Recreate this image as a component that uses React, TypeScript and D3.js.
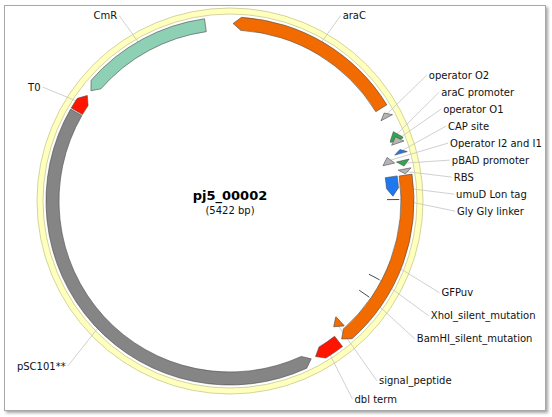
import { useEffect, useRef } from "react";
import * as d3 from "d3";

// plasmid + feature annotations (bp positions)
const plasmidName = "pj5_00002";
const plasmidLength = 5422;

const featureNames = [
  "araC", "operator O2", "araC promoter", "operator O1", "CAP site",
  "Operator I2 and I1", "pBAD promoter", "RBS", "GFPuv", "umuD Lon tag",
  "Gly Gly linker", "XhoI_silent_mutation", "BamHI_silent_mutation",
  "signal_peptide", "dbl term", "pSC101**", "T0", "CmR",
];
const featureStarts = [15, 908, 1009, 1036, 1102, 1122, 1157, 1199, 1229, 1227, 1347, 1773, 1876, 2071, 2143, 2301, 4524, 4645];
const featureEnds = [881, 934, 1054, 1069, 1121, 1160, 1184, 1223, 2124, 1330, 1349, 1775, 1878, 2116, 2277, 4518, 4616, 5302];
// 1 = forward, -1 = reverse, 0 = site (drawn as a tick)
const featureStrands = [-1, -1, -1, -1, -1, -1, 1, 1, 1, 1, 0, 0, 0, 1, 1, -1, 1, -1];

const featureColors: Record<string, string> = {
  "araC": "#f26b00",
  "operator O2": "#b5b5b5",
  "araC promoter": "#2ea84a",
  "operator O1": "#b5b5b5",
  "CAP site": "#1f78f0",
  "Operator I2 and I1": "#b5b5b5",
  "pBAD promoter": "#2ea84a",
  "RBS": "#b5b5b5",
  "GFPuv": "#f26b00",
  "umuD Lon tag": "#1f78f0",
  "signal_peptide": "#f26b00",
  "dbl term": "#ff1400",
  "pSC101**": "#858585",
  "T0": "#ff1400",
  "CmR": "#8dd0b3",
};
const innerTrack = new Set(["Operator I2 and I1", "umuD Lon tag", "Gly Gly linker", "XhoI_silent_mutation", "BamHI_silent_mutation", "signal_peptide"]);

const W = 552, H = 417;
const FONT = "'DejaVu Sans', Verdana, sans-serif";

export default function App() {
  const svgRef = useRef<SVGSVGElement | null>(null);

  useEffect(() => {
    if (!svgRef.current) return;
    const svg = d3.select(svgRef.current);
    svg.selectAll("*").remove();

    const cx = 230, cy = 201;
    const main = { r0: 171, r1: 184 };
    const inner = { r0: 157, r1: 169 };
    const headPx = 8;
    const HALF = Math.PI / 2;

    const angle = d3.scaleLinear().domain([0, plasmidLength]).range([0, 2 * Math.PI]);
    const pt = (a: number, r: number): [number, number] => [cx + r * Math.sin(a), cy - r * Math.cos(a)];

    const features = featureNames.map((name, i) => ({
      name,
      a0: angle(featureStarts[i]),
      a1: angle(featureEnds[i]),
      strand: featureStrands[i],
      track: innerTrack.has(name) ? inner : main,
      color: featureColors[name] || "#999",
    }));

    const arrowPath = (a0: number, a1: number, r0: number, r1: number, strand: number) => {
      const rm = (r0 + r1) / 2;
      const head = Math.min(headPx / rm, a1 - a0);
      const p = d3.path();
      if (strand >= 0) {
        const b = a1 - head;
        p.moveTo(...pt(a0, r1));
        p.arc(cx, cy, r1, a0 - HALF, b - HALF, false);
        p.lineTo(...pt(a1, rm));
        p.lineTo(...pt(b, r0));
        p.arc(cx, cy, r0, b - HALF, a0 - HALF, true);
      } else {
        const b = a0 + head;
        p.moveTo(...pt(a0, rm));
        p.lineTo(...pt(b, r1));
        p.arc(cx, cy, r1, b - HALF, a1 - HALF, false);
        p.lineTo(...pt(a1, r0));
        p.arc(cx, cy, r0, a1 - HALF, b - HALF, true);
      }
      p.closePath();
      return p.toString();
    };

    // frame with drop shadow
    const defs = svg.append("defs");
    const f = defs.append("filter").attr("id", "shadow").attr("x", "-5%").attr("y", "-5%").attr("width", "110%").attr("height", "110%");
    f.append("feDropShadow").attr("dx", 2).attr("dy", 2).attr("stdDeviation", 1.6).attr("flood-color", "#000").attr("flood-opacity", 0.35);
    svg.append("rect").attr("x", 4.5).attr("y", 5.5).attr("width", 541).attr("height", 405)
      .attr("fill", "#fff").attr("stroke", "#a8a8a8").attr("filter", "url(#shadow)");

    // backbone ring
    svg.append("path")
      .attr("transform", `translate(${cx},${cy})`)
      .attr("d", d3.arc()({ innerRadius: 187, outerRadius: 193, startAngle: 0, endAngle: 2 * Math.PI }) as string)
      .attr("fill", "#ffffbe").attr("stroke", "#c9c98c").attr("stroke-width", 0.8);

    // label layout: ideal spot on a circle outside the ring (text sits a bit low),
    // then crowded labels are spread vertically per side
    const gap = 17;
    const labelR = 225, labelDrop = 10, clusterLift = 13;
    const labels = features.map(d => {
      const mid = (d.a0 + d.a1) / 2;
      const side = Math.sin(mid) >= 0 ? 1 : -1;
      const rTarget = d.strand === 0 ? d.track.r1 : (d.track.r0 + d.track.r1) / 2;
      return {
        name: d.name, side,
        x: cx + 227 * Math.sin(mid),
        y0: cy + labelDrop - labelR * Math.cos(mid),
        y: 0,
        target: pt(mid, rTarget),
      };
    });
    [1, -1].forEach(side => {
      const items = labels.filter(l => l.side === side).sort((a, b) => a.y0 - b.y0);
      const groups = items.map(d => ({ members: [d], top: d.y0 }));
      let merged = true;
      while (merged) {
        merged = false;
        for (let i = 1; i < groups.length; i++) {
          const a = groups[i - 1], b = groups[i];
          if (a.top + a.members.length * gap > b.top) {
            const members = a.members.concat(b.members);
            const mean = d3.mean(members, m => m.y0) as number;
            groups.splice(i - 1, 2, { members, top: mean - (members.length - 1) * gap / 2 });
            merged = true;
            break;
          }
        }
      }
      groups.forEach(g => {
        const lift = g.members.length > 2 ? clusterLift : 0;
        g.members.forEach((m, k) => (m.y = g.top - lift + k * gap));
      });
    });

    // leader lines
    svg.append("g").selectAll("line").data(labels).join("line")
      .attr("x1", d => d.x - 2 * d.side).attr("y1", d => d.y)
      .attr("x2", d => d.target[0]).attr("y2", d => d.target[1])
      .attr("stroke", "#c4c4c4").attr("stroke-width", 0.8);

    // features: long ones first so small ones sit on top
    const arcs = features.filter(d => d.strand !== 0).sort((a, b) => (b.a1 - b.a0) - (a.a1 - a.a0));
    svg.append("g").selectAll("path").data(arcs).join("path")
      .attr("d", d => arrowPath(d.a0, d.a1, d.track.r0, d.track.r1, d.strand))
      .attr("fill", d => d.color).attr("stroke", "#4a4a4a").attr("stroke-width", 0.6).attr("stroke-linejoin", "round");

    const sites = features.filter(d => d.strand === 0);
    svg.append("g").selectAll("line").data(sites).join("line")
      .attr("x1", d => pt((d.a0 + d.a1) / 2, d.track.r0)[0]).attr("y1", d => pt((d.a0 + d.a1) / 2, d.track.r0)[1])
      .attr("x2", d => pt((d.a0 + d.a1) / 2, d.track.r1)[0]).attr("y2", d => pt((d.a0 + d.a1) / 2, d.track.r1)[1])
      .attr("stroke", "#4a4a4a").attr("stroke-width", 1);

    // label text
    svg.append("g").selectAll("text").data(labels).join("text")
      .attr("x", d => d.x).attr("y", d => d.y).attr("dy", "0.35em")
      .attr("text-anchor", d => (d.side > 0 ? "start" : "end"))
      .attr("font-family", FONT).attr("font-size", 10).attr("fill", "#111")
      .text(d => d.name);

    // centre title
    svg.append("text").attr("x", cx).attr("y", 200).attr("text-anchor", "middle")
      .attr("font-family", FONT).attr("font-size", 13).attr("font-weight", "bold").attr("fill", "#000")
      .text(plasmidName);
    svg.append("text").attr("x", cx).attr("y", 214).attr("text-anchor", "middle")
      .attr("font-family", FONT).attr("font-size", 10).attr("fill", "#111")
      .text(`(${plasmidLength} bp)`);
  }, []);

  return (
    <svg ref={svgRef} width={W} height={H} style={{ position: "absolute", left: 0, top: 0, display: "block", background: "#fff" }} />
  );
}
